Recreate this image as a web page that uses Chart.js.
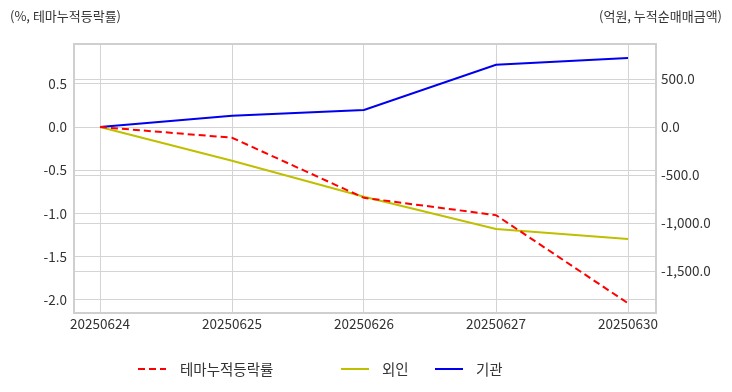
<!DOCTYPE html>
<html>
<head>
<meta charset="utf-8">
<script src="https://cdn.jsdelivr.net/npm/chart.js@4/dist/chart.umd.min.js"></script>
<style>
  html, body { margin: 0; padding: 0; background: #fff; }
  #wrap { position: relative; width: 732px; height: 392px; font-family: "Noto Sans CJK KR", "Noto Sans", sans-serif; color: #333; }
  canvas { position: absolute; left: 0; top: 0; }
  .lbl { position: absolute; font-size: 13px; line-height: 14px; white-space: nowrap; }
  .leg { position: absolute; top: 361px; font-size: 14.5px; line-height: 16px; white-space: nowrap; }
  .leg svg { position: absolute; top: 0; left: 0; }
</style>
</head>
<body>
<div id="wrap">
  <canvas id="c" width="732" height="392"></canvas>
  <div class="lbl" style="left:10px; top:9px;">(%, 테마누적등락률)</div>
  <div class="lbl" style="right:10px; top:9px;">(억원, 누적순매매금액)</div>
  <div id="legend"></div>
</div>
<script>
// ---- data ----
const categories = ['20250624', '20250625', '20250626', '20250627', '20250630'];
const themeReturn = [0.0, -0.124, -0.82, -1.02, -2.04];      // left axis (%)
const foreignNet = [0, -351, -726, -1062, -1167];            // right axis (억원)
const institutionNet = [0, 118, 177, 649, 719];              // right axis (억원)
const leftTicks = [-2.0, -1.5, -1.0, -0.5, 0.0, 0.5];
const rightTicks = [-1500, -1000, -500, 0, 500];
const seriesNames = ['테마누적등락률', '외인', '기관'];

const toPts = arr => arr.map((v, i) => ({ x: i, y: v }));
const fmtRight = v => v.toLocaleString('en-US', { minimumFractionDigits: 1, maximumFractionDigits: 1 });

const gridColor = '#d4d4d4';
const tickFont = { family: '"Noto Sans CJK KR", "Noto Sans", sans-serif', size: 13.5 };

const borderPlugin = {
  id: 'frame',
  afterDraw(chart) {
    const a = chart.chartArea, ctx = chart.ctx;
    ctx.save();
    ctx.strokeStyle = '#cfcfcf';
    ctx.lineWidth = 2;
    ctx.strokeRect(a.left, a.top, a.right - a.left, a.bottom - a.top);
    ctx.restore();
  }
};

new Chart(document.getElementById('c'), {
  type: 'line',
  data: {
    datasets: [
      { label: seriesNames[0], data: toPts(themeReturn), yAxisID: 'yL', borderColor: '#ff0000', borderDash: [7, 4], borderWidth: 2, pointRadius: 0, tension: 0 },
      { label: seriesNames[1], data: toPts(foreignNet), yAxisID: 'yR', borderColor: '#bfbf00', borderWidth: 2, pointRadius: 0, tension: 0 },
      { label: seriesNames[2], data: toPts(institutionNet), yAxisID: 'yR', borderColor: '#0000ee', borderWidth: 2, pointRadius: 0, tension: 0 }
    ]
  },
  options: {
    responsive: false,
    animation: false,
    devicePixelRatio: 1,
    layout: { padding: { top: 44, left: 0, right: 0, bottom: 0 } },
    plugins: { legend: { display: false }, tooltip: { enabled: false } },
    scales: {
      x: {
        type: 'linear',
        min: -26 / 132,
        max: 4 + 28 / 132,
        afterBuildTicks: s => { s.ticks = categories.map((c, i) => ({ value: i })); },
        afterFit: s => { s.height = 79; },
        ticks: { callback: v => categories[v], color: '#333', font: tickFont, padding: 3, maxRotation: 0, autoSkip: false },
        grid: { color: gridColor, drawTicks: false },
        border: { display: false }
      },
      yL: {
        position: 'left',
        min: -2.153,
        max: 0.961,
        afterBuildTicks: s => { s.ticks = leftTicks.map(v => ({ value: v })); },
        afterFit: s => { s.width = 74; },
        ticks: { callback: v => v.toFixed(1), color: '#333', font: tickFont, padding: 7 },
        grid: { color: gridColor, drawTicks: false },
        border: { display: false }
      },
      yR: {
        position: 'right',
        min: -1937.5,
        max: 864.6,
        afterBuildTicks: s => { s.ticks = rightTicks.map(v => ({ value: v })); },
        afterFit: s => { s.width = 76; },
        ticks: { callback: v => fmtRight(v), color: '#333', font: tickFont, padding: 5 },
        grid: { color: gridColor, drawTicks: false },
        border: { display: false }
      }
    }
  },
  plugins: [borderPlugin]
});

// ---- legend (HTML) ----
const legItems = [
  { name: seriesNames[0], color: '#ff0000', dash: '7 4', lineX: 138, textX: 180 },
  { name: seriesNames[1], color: '#bfbf00', dash: '', lineX: 341, textX: 382 },
  { name: seriesNames[2], color: '#0000ee', dash: '', lineX: 435, textX: 476 }
];
const legend = document.getElementById('legend');
legItems.forEach(it => {
  const sw = document.createElement('div');
  sw.className = 'leg';
  sw.style.left = it.lineX + 'px';
  sw.style.width = '28px';
  sw.style.height = '16px';
  sw.innerHTML = `<svg width="28" height="16"><line x1="0" y1="8" x2="28" y2="8" stroke="${it.color}" stroke-width="2" ${it.dash ? `stroke-dasharray="${it.dash}"` : ''}/></svg>`;
  legend.appendChild(sw);
  const tx = document.createElement('div');
  tx.className = 'leg';
  tx.style.left = it.textX + 'px';
  tx.textContent = it.name;
  legend.appendChild(tx);
});
</script>
</body>
</html>
